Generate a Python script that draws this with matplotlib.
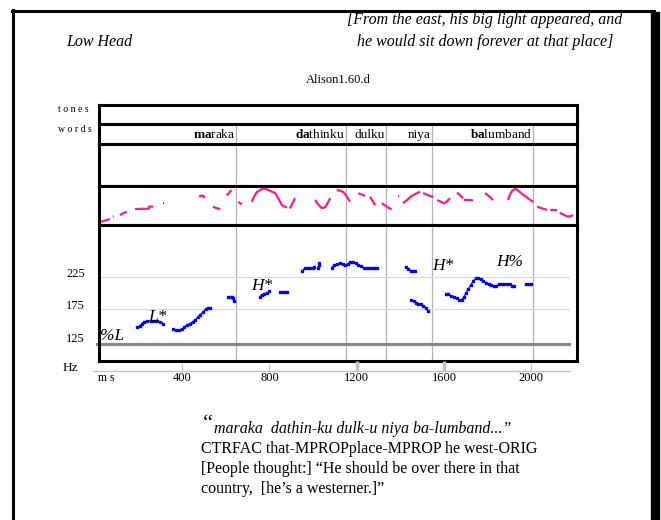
import matplotlib
matplotlib.use('Agg')
from matplotlib import pyplot as plt
from matplotlib.lines import Line2D
from matplotlib.patches import Rectangle
from matplotlib.transforms import ScaledTranslation

plt.rcParams['font.family'] = ['Liberation Serif', 'DejaVu Serif']
plt.rcParams['mathtext.fontset'] = 'custom'
plt.rcParams['mathtext.rm'] = 'Liberation Serif'
plt.rcParams['mathtext.bf'] = 'Liberation Serif:bold'

# Woerter (Grenzen in ms)
words = [r'$\mathbf{ma}$raka', r'$\mathbf{da}$thinku', 'dulku', 'niya', r'$\mathbf{ba}$lumband']
word_ends = [648, 1149, 1333, 1545, 2009]

# F0-Kontur (blau), Segmente
f0_t = [
    [192, 205, 215, 225, 240, 255, 270, 285, 300, 314],
    [359, 372, 385, 397, 410, 422, 435, 448, 460, 472, 484, 496, 508, 518, 527],
    [608, 618, 628, 634, 636],
    [756, 766, 776, 788, 800],
    [848, 860, 872, 882],
    [951, 963, 975, 987, 998, 1006],
    [1024, 1025, 1026],
    [1085, 1097, 1110, 1123, 1136, 1148, 1160, 1171, 1183, 1195, 1207, 1219, 1232, 1245, 1258, 1271, 1284, 1294],
    [1425, 1437, 1447, 1458, 1468],
    [1450, 1460, 1470, 1480, 1492, 1504, 1516, 1527],
    [1609, 1620, 1632, 1645, 1657, 1668, 1680, 1690, 1700, 1711, 1722, 1734, 1745, 1756, 1768, 1780, 1792,
     1804, 1816, 1828, 1840, 1852, 1864, 1876, 1888, 1900, 1912, 1922],
    [1976, 1987, 1998],
]
f0_hz = [
    [147, 148, 152, 155, 156, 156, 156, 156, 155, 152],
    [143, 142, 142, 143, 146, 150, 152, 155, 158, 162, 166, 170, 175, 177, 177],
    [194, 194, 193, 192, 187],
    [194, 197, 198, 200, 202],
    [201, 201, 201, 201],
    [234, 239, 239, 239, 239, 240],
    [239, 243, 246],
    [239, 243, 244, 246, 244, 243, 244, 247, 247, 246, 243, 241, 239, 239, 239, 239, 239, 239],
    [240, 237, 234, 234, 234],
    [189, 187, 184, 183, 182, 180, 177, 172],
    [198, 198, 195, 194, 191, 189, 189, 193, 200, 206, 212, 218, 222, 223, 221, 218, 215, 214,
     212, 211, 211, 213, 214, 214, 214, 214, 211, 210],
    [214, 214, 214],
]
baseline_hz = 121

# Intensitaet (pink), Segmente
pink_t = [
    [19, 35, 50, 70], [82, 86], [115, 130, 146], [184, 210, 235, 253], [244, 256, 267], [311, 316],
    [477, 486, 496, 505], [541, 552, 563, 574], [603, 612, 620, 627], [657, 666, 675],
    [719, 730, 742, 757, 768, 780, 795, 810, 826, 840, 857, 870, 880],
    [894, 905, 917], [938, 942], [1009, 1025, 1040, 1055, 1068, 1078], [1108, 1125, 1140, 1155, 1169],
    [1206, 1222, 1238], [1261, 1272, 1284], [1314, 1330, 1345, 1360], [1389, 1393],
    [1412, 1430, 1450, 1470, 1490], [1504, 1520, 1535, 1550], [1568, 1585, 1600, 1615, 1627],
    [1659, 1673, 1687], [1690, 1710, 1733], [1788, 1800, 1812, 1825],
    [1893, 1902, 1912, 1925, 1937, 1948, 1960, 1975, 1990, 2008],
    [2026, 2040, 2055, 2072], [2086, 2100, 2118], [2130, 2145, 2160, 2175, 2192],
]
pink_v = [
    [4, 7, 10, 13], [20, 21], [24, 29, 33], [40, 41, 41, 42], [46, 47, 47], [56, 56],
    [74, 77, 76, 71], [47, 44, 42, 40], [78, 82, 88, 92], [60, 56, 54],
    [60, 75, 86, 92, 95, 96, 92, 88, 84, 70, 51, 47, 45],
    [42, 55, 70], [74, 74], [65, 52, 43, 45, 58, 70], [92, 90, 86, 74, 60],
    [83, 80, 76], [74, 63, 51], [56, 50, 44, 40], [76, 76],
    [56, 65, 75, 82, 87], [84, 80, 76, 73], [65, 60, 56, 62, 70],
    [85, 78, 70], [65, 65, 64], [84, 78, 72, 65],
    [65, 80, 90, 95, 92, 86, 80, 74, 67, 60],
    [47, 44, 41, 38], [38, 38, 37], [30, 26, 21, 20, 24],
]

# Toene
tones = ['%L', 'L*', 'H*', 'H*', 'H%']
tone_t = [22, 287, 767, 1595, 1900]
tone_hz = [133, 163, 211, 241, 248]

hz_ticks = [125, 175, 225]
ms_ticks = [400, 800, 1200, 1600, 2000]

W, H = 661, 520
fig = plt.figure(figsize=(W / 100, H / 100), dpi=100)

def box(top, bottom, left=99, right=577):
    a = fig.add_axes([left / W, 1 - bottom / H, (right - left) / W, (bottom - top) / H])
    a.set_xticks([])
    a.set_yticks([])
    for s in a.spines.values():
        s.set_linewidth(2.2)
        s.set_color('black')
    a.set_xlim(19, 2209)
    return a

ax_tones = box(105, 124)
ax_words = box(124, 144)
ax_blank = box(144, 186)
ax_pink = box(186, 225)
ax = box(225, 361)

for a in [ax_words, ax_blank, ax_pink, ax]:
    for b in word_ends:
        a.axvline(b, color='#b3b3b3', lw=0.9, zorder=0)

for w, b in zip(words, word_ends):
    ax_words.text(b - 5, 0.45, w, ha='right', va='center', fontsize=9.5)

# Pink
ax_pink.set_ylim(-3, 103)
for t, v in zip(pink_t, pink_v):
    ax_pink.plot(t, v, color='#ff1a8c', lw=1.6, solid_capstyle='butt')

# F0
ax.set_ylim(94, 305)
for h in [175, 225]:
    ax.hlines(h, 19, 2173, color='#d8d8d8', lw=0.8, zorder=0)
ax.plot([10, 2173], [baseline_hz, baseline_hz], color='#888888', lw=2.3, clip_on=False, zorder=1)
for t, h in zip(f0_t, f0_hz):
    ax.plot(t, h, color='#0000ff', lw=0.8, marker='s', ms=1.8, mec='#0000ff', zorder=3)
for s, t, h in zip(tones, tone_t, tone_hz):
    ax.text(t, h, s, fontsize=12.5, style='italic', ha='left' if s == '%L' else 'center',
            va='center', zorder=4)

ax.set_yticks(hz_ticks)
ax.set_yticklabels([str(h) for h in hz_ticks])
ax.tick_params(axis='y', length=0, pad=10, labelsize=9)
for lab in ax.get_yticklabels():
    lab.set_transform(lab.get_transform() + ScaledTranslation(0, 4 / 100, fig.dpi_scale_trans))
fig.text(63 / W, 1 - 368 / H, 'Hz', fontsize=9.5, ha='left', va='center')

# ms-Achse
ax_ms = fig.add_axes([93 / W, 1 - 371 / H, (570 - 93) / W, 8 / H])
ax_ms.set_xlim((93 - 94.8) / 0.21825, (570 - 94.8) / 0.21825)
ax_ms.patch.set_alpha(0)
for k in ['top', 'left', 'right']:
    ax_ms.spines[k].set_visible(False)
ax_ms.spines['bottom'].set_color('#c4c4c4')
ax_ms.spines['bottom'].set_linewidth(1.0)
ax_ms.set_yticks([])
ax_ms.set_xticks(ms_ticks)
ax_ms.set_xticklabels([str(m) for m in ms_ticks])
ax_ms.tick_params(axis='x', direction='in', length=5, width=0.8, color='#c4c4c4', labelsize=9, pad=1)
for i, tk in enumerate(ax_ms.xaxis.get_major_ticks()):
    if ms_ticks[i] in (1200, 1600):
        tk.tick1line.set_markeredgewidth(2.5)
        tk.tick1line.set_color('#8c8c8c')
        tk.tick1line.set_markersize(7)
fig.text(98 / W, 1 - 378 / H, 'm s', fontsize=8.5, ha='left', va='center')

# Beschriftung
fig.text(58 / W, 1 - 109 / H, 't o n e s', fontsize=7, ha='left', va='center')
fig.text(58 / W, 1 - 130 / H, 'w o r d s', fontsize=7, ha='left', va='center')
fig.text(338 / W, 1 - 80 / H, 'Alison1.60.d', fontsize=9, ha='center', va='center')
fig.text(66 / W, 1 - 42 / H, 'Low Head', fontsize=11.5, style='italic', ha='left', va='center')
fig.text(485 / W, 1 - 20 / H, '[From the east, his big light appeared, and', fontsize=11.5,
         style='italic', ha='center', va='center')
fig.text(485 / W, 1 - 42 / H, 'he would sit down forever at that place]', fontsize=11.5,
         style='italic', ha='center', va='center')

fig.text(203 / W, 1 - 424 / H, '\u201c', fontsize=16, ha='left', va='center')
fig.text(214 / W, 1 - 429 / H, 'maraka  dathin-ku dulk-u niya ba-lumband...\u201d', fontsize=11.5,
         style='italic', ha='left', va='center')
fig.text(201 / W, 1 - 449 / H, 'CTRFAC that-MPROPplace-MPROP he west-ORIG', fontsize=11.5,
         ha='left', va='center')
fig.text(201 / W, 1 - 469 / H, '[People thought:] \u201cHe should be over there in that', fontsize=11.5,
         ha='left', va='center')
fig.text(201 / W, 1 - 489 / H, 'country,  [he\u2019s a westerner.]\u201d', fontsize=11.5,
         ha='left', va='center')

# Rahmen
fig.add_artist(Line2D([13 / W, 13 / W], [0, 1 - 10 / H], lw=2.2, color='black'))
fig.add_artist(Line2D([12 / W, 654 / W], [1 - 10.5 / H, 1 - 10.5 / H], lw=2.2, color='black'))
fig.add_artist(Rectangle((651 / W, 0), 8 / W, 1 - 12 / H, color='black', transform=fig.transFigure))

plt.savefig('out.png', dpi=100)
